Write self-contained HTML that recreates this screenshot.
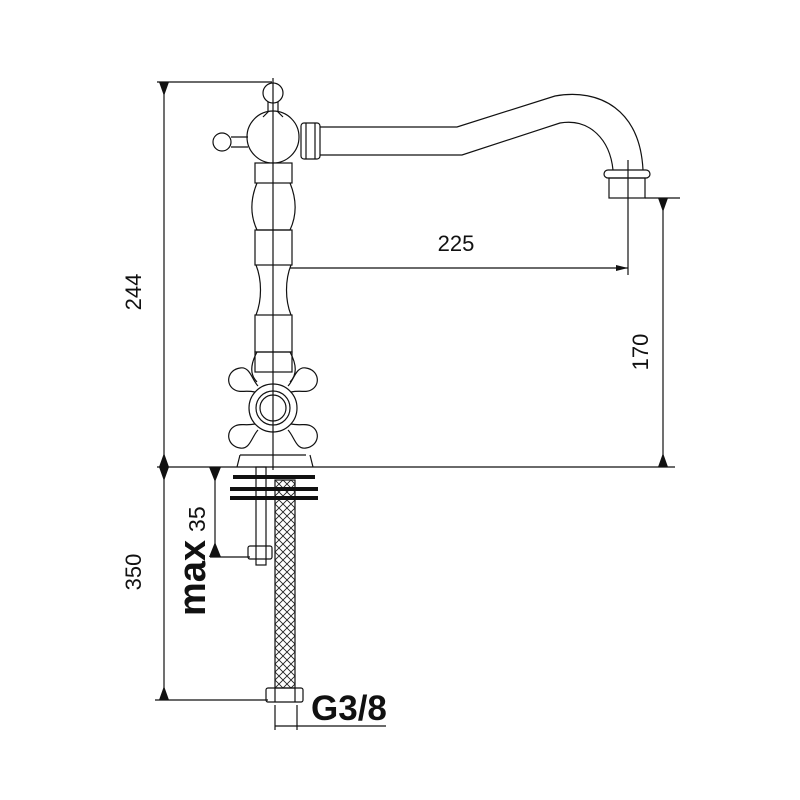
<!DOCTYPE html>
<html><head><style>body{margin:0;background:#fff}svg{display:block}</style></head><body>
<svg width="800" height="800" viewBox="0 0 800 800" xmlns="http://www.w3.org/2000/svg" font-family="Liberation Sans, sans-serif">
<defs>
<pattern id="hx" width="8" height="8" patternUnits="userSpaceOnUse" x="275" y="480">
<path d="M0 0L8 8M8 0L0 8" stroke="#222" stroke-width="0.9"/>
</pattern>
<marker id="ar" markerWidth="12" markerHeight="6" refX="12" refY="3" orient="auto" markerUnits="userSpaceOnUse">
<path d="M0 0L12 3L0 6z" fill="#111"/>
</marker>
</defs>
<g fill="none" stroke="#111" stroke-width="1.2">
<line x1="157" y1="82" x2="272" y2="82"/>
<line x1="164" y1="82" x2="164" y2="467"/>
<line x1="157" y1="467" x2="675" y2="467"/>
<line x1="164" y1="467" x2="164" y2="700"/>
<line x1="155" y1="700" x2="268" y2="700"/>
<line x1="645" y1="198" x2="680" y2="198"/>
<line x1="663" y1="198" x2="663" y2="467"/>
<line x1="628" y1="160" x2="628" y2="275"/>
<line x1="290" y1="268" x2="628" y2="268" marker-end="url(#ar)"/>
<line x1="215" y1="467" x2="215" y2="557"/>
<line x1="210" y1="557" x2="250" y2="557"/>
<line x1="275" y1="705" x2="275" y2="730"/>
<line x1="297" y1="705" x2="297" y2="730"/>
<line x1="275" y1="726" x2="386" y2="726"/>
<line x1="273" y1="78" x2="273" y2="470"/>
<path d="M320 127 L457 127 L555 96 C600 88 640 110 643 170"/>
<path d="M320 155 L462 155 L560 123 C590 118 610 140 613 170"/>
<rect x="604" y="170" width="46" height="8" rx="4"/>
<rect x="609" y="178" width="36" height="20"/>
<rect x="301" y="123" width="19" height="36" rx="3"/>
<line x1="306" y1="123" x2="306" y2="159"/><line x1="315" y1="123" x2="315" y2="159"/>
<circle cx="273" cy="93" r="10"/>
<path d="M268 102 L268 112 L263 117 M278 102 L278 112 L283 117"/>
<circle cx="273" cy="137" r="26"/>
<circle cx="222" cy="142" r="9"/>
<path d="M231 137 L248 137 M231 147 L248 147"/>
<rect x="255" y="163" width="37" height="20"/>
<path d="M257 183 C250 200 250 215 257 230 L290 230 C297 215 297 200 290 183"/>
<rect x="255" y="230" width="37" height="35"/>
<path d="M256 265 C262 280 262 300 256 315 M291 265 C285 280 285 300 291 315"/>
<rect x="255" y="315" width="37" height="37"/>
<path d="M257 352 C250 365 250 375 257 382 M290 352 C297 365 297 375 290 382"/>
<rect x="255" y="352" width="37" height="20"/>
<circle cx="273" cy="408" r="24"/>
<circle cx="273" cy="408" r="17"/>
<circle cx="273" cy="408" r="13"/>
<path d="M255 392 C245 390 240 393 235 390 C225 385 227 370 240 368 C250 366 252 380 258 386"/>
<path d="M291 392 C301 390 306 393 311 390 C321 385 319 370 306 368 C296 366 294 380 288 386"/>
<path d="M255 424 C245 426 240 423 235 426 C225 431 227 446 240 448 C250 450 252 436 258 430"/>
<path d="M291 424 C301 426 306 423 311 426 C321 431 319 446 306 448 C296 450 294 436 288 430"/>
<path d="M240 455 L237 467 M310 455 L313 467 M240 455 L306 455"/>
<rect x="256" y="467" width="10" height="98"/>
<rect x="248" y="546" width="24" height="13" rx="2"/>
<rect x="275" y="480" width="20" height="208" fill="url(#hx)"/>
<rect x="266" y="688" width="37" height="14" rx="2"/>
<line x1="275" y1="688" x2="275" y2="702"/><line x1="295" y1="688" x2="295" y2="702"/>
</g>
<g stroke="#111" stroke-width="4">
<line x1="233" y1="477" x2="315" y2="477"/>
<line x1="230" y1="489" x2="318" y2="489"/>
<line x1="230" y1="498" x2="318" y2="498"/>
</g>
<path d="M209 467 L215 482 L221 467z M209 557 L215 542 L221 557z M159 82 L164 96 L169 82z M159 467 L164 453 L169 467z M159 467 L164 481 L169 467z M159 700 L164 686 L169 700z M658 198 L663 212 L668 198z M658 467 L663 453 L668 467z" fill="#111"/>
<g fill="#111">
<text x="0" y="0" font-size="22" text-anchor="middle" transform="translate(141 292) rotate(-90)">244</text>
<text x="0" y="0" font-size="22" text-anchor="middle" transform="translate(141 572) rotate(-90)">350</text>
<text x="0" y="0" font-size="22" text-anchor="middle" transform="translate(648 352) rotate(-90)">170</text>
<text x="456" y="251" font-size="22" text-anchor="middle">225</text>
<text x="0" y="0" transform="translate(205 616) rotate(-90)"><tspan font-size="38" font-weight="bold">max</tspan><tspan font-size="23" dx="8">35</tspan></text>
<text x="311" y="720" font-size="35" font-weight="bold">G3/8</text>
</g>
</svg>
</body></html>
